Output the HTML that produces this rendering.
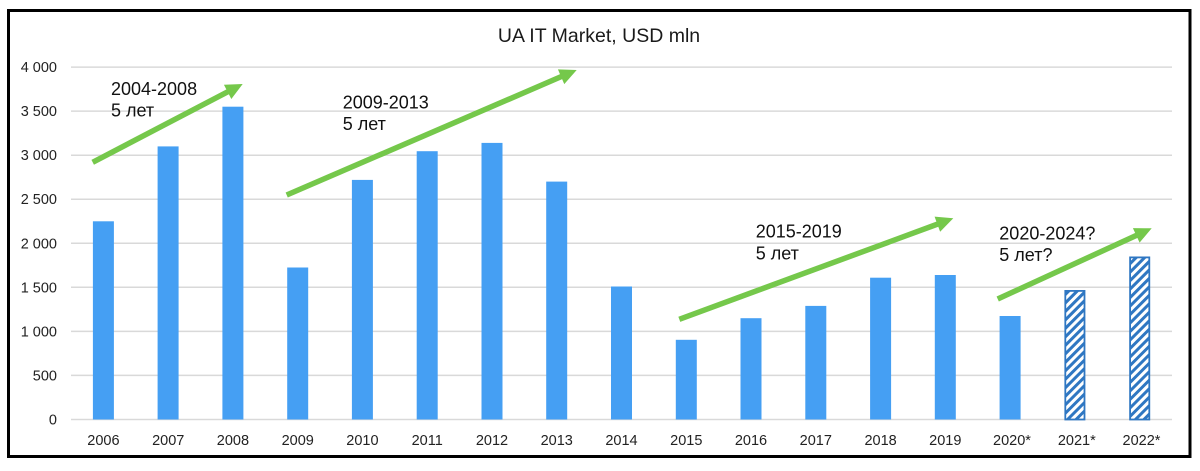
<!DOCTYPE html>
<html>
<head>
<meta charset="utf-8">
<style>
  html, body { margin: 0; padding: 0; background: #ffffff; }
  body { width: 1200px; height: 471px; overflow: hidden; }
  svg { display: block; }
  text { font-family: "Liberation Sans", "DejaVu Sans", sans-serif; }
</style>
</head>
<body>
<svg width="1200" height="471" viewBox="0 0 1200 471" xmlns="http://www.w3.org/2000/svg">
  <defs>
    <pattern id="hatch" patternUnits="userSpaceOnUse" width="6" height="6" patternTransform="rotate(45)">
      <rect x="0" y="0" width="6" height="6" fill="#ffffff"/>
      <rect x="0" y="0" width="3" height="6" fill="#2f77c2"/>
    </pattern>
  </defs>
  <rect x="0" y="0" width="1200" height="471" fill="#ffffff"/>

  <!-- gridlines -->
  <g stroke="#d9d9d9" stroke-width="1.5">
    <line x1="71" y1="419.5" x2="1172" y2="419.5"/>
    <line x1="71" y1="375.4" x2="1172" y2="375.4"/>
    <line x1="71" y1="331.4" x2="1172" y2="331.4"/>
    <line x1="71" y1="287.3" x2="1172" y2="287.3"/>
    <line x1="71" y1="243.3" x2="1172" y2="243.3"/>
    <line x1="71" y1="199.2" x2="1172" y2="199.2"/>
    <line x1="71" y1="155.2" x2="1172" y2="155.2"/>
    <line x1="71" y1="111.1" x2="1172" y2="111.1"/>
    <line x1="71" y1="67.1" x2="1172" y2="67.1"/>
  </g>

  <!-- y labels -->
  <g font-size="14.5" fill="#222" text-anchor="end">
    <text x="57" y="424.5">0</text>
    <text x="57" y="380.4">500</text>
    <text x="57" y="336.4">1 000</text>
    <text x="57" y="292.3">1 500</text>
    <text x="57" y="248.3">2 000</text>
    <text x="57" y="204.2">2 500</text>
    <text x="57" y="160.2">3 000</text>
    <text x="57" y="116.1">3 500</text>
    <text x="57" y="72.1">4 000</text>
  </g>

  <!-- bars -->
  <g fill="#459ff3">
    <rect x="92.9" y="221.3" width="21" height="198.2"/>
    <rect x="157.6" y="146.4" width="21" height="273.1"/>
    <rect x="222.4" y="106.7" width="21" height="312.8"/>
    <rect x="287.2" y="267.5" width="21" height="152.0"/>
    <rect x="351.9" y="179.9" width="21" height="239.6"/>
    <rect x="416.7" y="151.2" width="21" height="268.3"/>
    <rect x="481.5" y="142.9" width="21" height="276.6"/>
    <rect x="546.2" y="181.6" width="21" height="237.9"/>
    <rect x="611.0" y="286.5" width="21" height="133.0"/>
    <rect x="675.8" y="339.8" width="21" height="79.7"/>
    <rect x="740.5" y="318.2" width="21" height="101.3"/>
    <rect x="805.3" y="305.9" width="21" height="113.6"/>
    <rect x="870.1" y="277.7" width="21" height="141.8"/>
    <rect x="934.8" y="275.0" width="21" height="144.5"/>
    <rect x="999.6" y="316.0" width="21" height="103.5"/>
  </g>
  <g fill="url(#hatch)" stroke="#2f77c2" stroke-width="1.8">
    <rect x="1065.3" y="290.9" width="19.2" height="128.6"/>
    <rect x="1130.1" y="257.4" width="19.2" height="162.1"/>
  </g>

  <!-- x labels -->
  <g font-size="14.5" fill="#222" text-anchor="middle">
    <text x="103.4" y="445">2006</text>
    <text x="168.2" y="445">2007</text>
    <text x="232.9" y="445">2008</text>
    <text x="297.7" y="445">2009</text>
    <text x="362.4" y="445">2010</text>
    <text x="427.2" y="445">2011</text>
    <text x="492.0" y="445">2012</text>
    <text x="556.7" y="445">2013</text>
    <text x="621.5" y="445">2014</text>
    <text x="686.3" y="445">2015</text>
    <text x="751.0" y="445">2016</text>
    <text x="815.8" y="445">2017</text>
    <text x="880.6" y="445">2018</text>
    <text x="945.3" y="445">2019</text>
    <text x="1012.0" y="445">2020*</text>
    <text x="1076.8" y="445">2021*</text>
    <text x="1141.5" y="445">2022*</text>
  </g>

  <!-- title -->
  <text x="599" y="42" font-size="19.5" fill="#1a1a1a" text-anchor="middle">UA IT Market, USD mln</text>

  <!-- annotations -->
  <g font-size="18" fill="#111">
    <text x="111" y="95">2004-2008</text>
    <text x="111" y="116.7">5 лет</text>
    <text x="342.7" y="108.3">2009-2013</text>
    <text x="342.7" y="129.8">5 лет</text>
    <text x="755.7" y="237.3">2015-2019</text>
    <text x="755.7" y="259.3">5 лет</text>
    <text x="999.3" y="239.3">2020-2024?</text>
    <text x="999.3" y="261">5 лет?</text>
  </g>

  <!-- arrows -->
  <g stroke="#75c84b" stroke-width="5.5" fill="none" stroke-linecap="butt">
    <line x1="92.7" y1="162.3" x2="229.4" y2="90.9"/>
    <line x1="286.7" y1="195" x2="562.9" y2="75.9"/>
    <line x1="679.3" y1="319.3" x2="939.2" y2="223.5"/>
    <line x1="997.7" y1="299" x2="1138.1" y2="234.6"/>
  </g>
  <g fill="#75c84b">
    <polygon points="242.7,84 231.33,98.96 223.93,84.78"/>
    <polygon points="576.7,70 564.26,84.08 557.92,69.38"/>
    <polygon points="953.3,218.3 940.12,231.69 934.58,216.67"/>
    <polygon points="1151.7,228.3 1139.59,242.66 1132.91,228.12"/>
  </g>

  <!-- outer border -->
  <rect x="8.5" y="10.5" width="1181.5" height="446" fill="none" stroke="#000" stroke-width="3"/>
</svg>
</body>
</html>
